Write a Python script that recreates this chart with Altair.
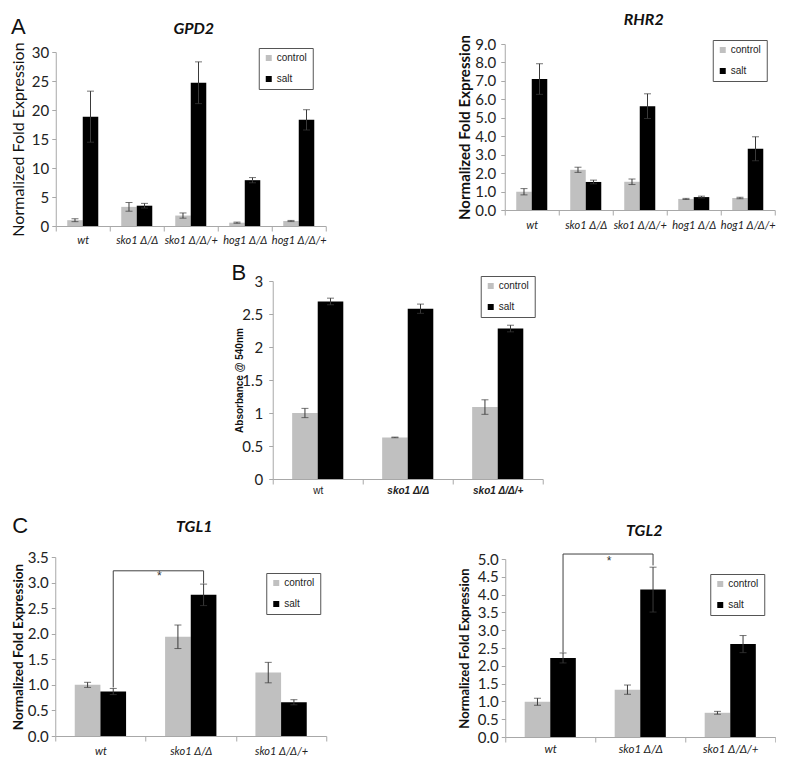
import altair as alt
import pandas as pd

# ---------------- data ----------------
conditions = ["control", "salt"]
strains5 = ["wt", "sko1 Δ/Δ", "sko1 Δ/Δ/+", "hog1 Δ/Δ", "hog1 Δ/Δ/+"]
strains3 = ["wt", "sko1 Δ/Δ", "sko1 Δ/Δ/+"]

gpd2_control = [1.0, 3.3, 1.8, 0.57, 0.86]
gpd2_control_err = [0.25, 0.75, 0.45, 0.1, 0.1]
gpd2_salt = [18.85, 3.5, 24.7, 7.9, 18.3]
gpd2_salt_err = [4.4, 0.4, 3.6, 0.45, 1.75]

rhr2_control = [0.99, 2.18, 1.53, 0.6, 0.65]
rhr2_control_err = [0.17, 0.14, 0.15, 0.03, 0.04]
rhr2_salt = [7.1, 1.52, 5.63, 0.7, 3.32]
rhr2_salt_err = [0.83, 0.1, 0.67, 0.05, 0.65]

abs_control = [1.0, 0.63, 1.09]
abs_control_err = [0.07, 0.005, 0.11]
abs_salt = [2.69, 2.58, 2.28]
abs_salt_err = [0.05, 0.07, 0.05]

tgl1_control = [1.0, 1.94, 1.24]
tgl1_control_err = [0.05, 0.23, 0.2]
tgl1_salt = [0.87, 2.76, 0.66]
tgl1_salt_err = [0.06, 0.21, 0.05]

tgl2_control = [0.99, 1.33, 0.68]
tgl2_control_err = [0.1, 0.13, 0.04]
tgl2_salt = [2.22, 4.14, 2.61]
tgl2_salt_err = [0.14, 0.63, 0.24]

# significance brackets: (strain, value) path points on the salt bars
tgl1_bracket_strain = ["wt", "wt", "sko1 Δ/Δ", "sko1 Δ/Δ"]
tgl1_bracket_value = [0.95, 3.23, 3.23, 2.98]
tgl1_star_value = 3.12
tgl2_bracket_strain = ["wt", "wt", "sko1 Δ/Δ", "sko1 Δ/Δ"]
tgl2_bracket_value = [2.37, 5.14, 5.14, 4.82]
tgl2_star_value = 4.95

GREY = "#c0c0c0"
AXC = "#a8a8a8"
ERRC = "#3a3a3a"
NUMFONT = "Lato"


def make_df(strains, c, ce, s, se):
    rows = []
    for st, v, e in zip(strains, c, ce):
        rows.append({"strain": st, "cond": "control", "value": v, "lo": v - e, "hi": v + e})
    for st, v, e in zip(strains, s, se):
        rows.append({"strain": st, "cond": "salt", "value": v, "lo": v - e, "hi": v + e})
    return pd.DataFrame(rows)


def text_layer(txt, x, y, size, color="#111", font="Liberation Sans", style="normal", weight="normal"):
    return alt.Chart(pd.DataFrame({"t": [txt]})).mark_text(
        font=font, fontSize=size, align="center", baseline="middle", color=color,
        fontStyle=style, fontWeight=weight,
    ).encode(text="t:N", x=alt.value(x), y=alt.value(y))


def panel(df, strains, W, H, yrange, ydom, yvals, yfmt, ytitle, ytfont, ytsize, ytweight,
          ytx, yty, ylabpad, xlabfont, xlabsize, xlabstyle, xlabweight, xlabpad, po,
          title, legxy, letter=None, bracket=None, spacers=()):
    xaxis = alt.Axis(title=None, labelAngle=0, tickBand="extent", tickSize=5,
                     tickColor=AXC, domainColor=AXC, labelColor="#222",
                     labelFont=xlabfont, labelFontSize=xlabsize,
                     labelFontStyle=xlabstyle, labelFontWeight=xlabweight,
                     labelPadding=xlabpad)
    x = alt.X("strain:N", sort=strains, scale=alt.Scale(domain=strains, paddingInner=0, paddingOuter=0),
              axis=xaxis)
    xo = alt.XOffset("cond:N", sort=conditions,
                     scale=alt.Scale(domain=conditions, paddingInner=0, paddingOuter=po))
    yaxis = alt.Axis(title=ytitle, values=yvals, format=yfmt, grid=False, tickSize=4,
                     tickColor=AXC, domainColor=AXC, labelColor="#222",
                     labelFont=NUMFONT, labelFontSize=15, labelPadding=ylabpad,
                     titleFont=ytfont, titleFontSize=ytsize, titleFontWeight=ytweight,
                     titleColor="#111", titleX=ytx, titleY=yty, titleBaseline="middle")
    yscale = alt.Scale(domain=ydom, nice=False, zero=True, range=yrange)

    base = alt.Chart(df)
    bars = base.mark_bar().encode(
        x=x, xOffset=xo,
        y=alt.Y("value:Q", scale=yscale, axis=yaxis),
        color=alt.Color("cond:N", sort=conditions,
                        scale=alt.Scale(domain=conditions, range=[GREY, "#000000"]),
                        legend=alt.Legend(title=None, orient="none", legendX=legxy[0], legendY=legxy[1],
                                          strokeColor="#555", fillColor="white", padding=5,
                                          symbolType="square", symbolSize=36, symbolStrokeWidth=0,
                                          labelFont="Liberation Sans", labelFontSize=10,
                                          labelColor="#222", rowPadding=11, labelOffset=3)),
    )
    rule = base.mark_rule(color=ERRC, strokeWidth=1).encode(
        x=x, xOffset=xo, y=alt.Y("lo:Q", scale=yscale, axis=yaxis), y2="hi:Q")
    cap_lo = base.mark_tick(color=ERRC, thickness=1, size=7, orient="horizontal").encode(
        x=x, xOffset=xo, y=alt.Y("lo:Q", scale=yscale, axis=yaxis))
    cap_hi = base.mark_tick(color=ERRC, thickness=1, size=7, orient="horizontal").encode(
        x=x, xOffset=xo, y=alt.Y("hi:Q", scale=yscale, axis=yaxis))
    layers = [bars, rule, cap_lo, cap_hi]
    if title:
        layers.append(text_layer(title[0], title[1], title[2], 16, font=NUMFONT, style="italic",
                                 weight="bold"))
    if letter is not None:
        layers.append(text_layer(letter[0], letter[1], letter[2], 22))
    for sx, sy, ss in spacers:
        layers.append(text_layer(".", sx, sy, ss, color="white"))
    if bracket is not None:
        bstr, bval, sval = bracket
        bdf = pd.DataFrame({"strain": bstr, "cond": ["salt"] * len(bstr), "value": bval,
                            "o": list(range(len(bstr)))})
        layers.append(alt.Chart(bdf).mark_line(color="#404040", strokeWidth=1).encode(
            x=x, xOffset=xo, y=alt.Y("value:Q", scale=yscale, axis=yaxis), order="o:Q"))
        sdf = pd.DataFrame({"strain": ["wt"], "cond": ["salt"], "value": [sval], "t": ["*"]})
        layers.append(alt.Chart(sdf).mark_text(fontSize=12, dx=46, color="#333",
                                               font="Liberation Sans").encode(
            x=x, xOffset=xo, y=alt.Y("value:Q", scale=yscale, axis=yaxis), text="t:N"))
    return alt.layer(*layers).properties(width=W, height=H)


# row 1 views share their top edge; GPD2's data area starts 8px lower
gpd2 = panel(make_df(strains5, gpd2_control, gpd2_control_err, gpd2_salt, gpd2_salt_err),
             strains5, 270, 182, [182, 8], [0, 30], list(range(0, 31, 5)), "d",
             "Normalized Fold Expression", NUMFONT, 16, "normal", -37.5, 95, 3,
             NUMFONT, 11, "italic", "normal", 3, 0.74,
             ("GPD2", 138, -15.5), (203, 4), letter=("A", -37.5, -17.5))

rhr2 = panel(make_df(strains5, rhr2_control, rhr2_control_err, rhr2_salt, rhr2_salt_err),
             strains5, 270, 166, [166, 0], [0, 9], [float(v) for v in range(0, 10)], ".1f",
             "Normalized Fold Expression", NUMFONT, 15, "bold", -40, 83, 5,
             NUMFONT, 11, "italic", "normal", 4, 0.74,
             ("RHR2", 139, -24.5), (208, -4))

absb = panel(make_df(strains3, abs_control, abs_control_err, abs_salt, abs_salt_err),
             strains3, 270, 198, [198, 0], [0, 3], [0, 0.5, 1, 1.5, 2, 2.5, 3], ".2~f",
             "Absorbance @ 540nm", "Liberation Sans", 10, "bold", -33, 99, 6,
             "Liberation Sans", 10,
             {"condition": {"test": "datum.value === 'wt'", "value": "normal"}, "value": "italic"},
             {"condition": {"test": "datum.value === 'wt'", "value": "normal"}, "value": "bold"},
             1, 0.76,
             None, (208, -5), letter=("B", -34, -8), spacers=[(280, 197, 40)])

tgl1 = panel(make_df(strains3, tgl1_control, tgl1_control_err, tgl1_salt, tgl1_salt_err),
             strains3, 271, 179, [179, 0], [0, 3.5], [0, 0.5, 1, 1.5, 2, 2.5, 3, 3.5], ".1f",
             "Normalized Fold Expression", NUMFONT, 13.5, "bold", -37, 89.5, 3,
             NUMFONT, 11, "italic", "normal", 4.5, 0.76,
             ("TGL1", 139, -30.5), (211, 16), letter=("C", -35, -31),
             bracket=(tgl1_bracket_strain, tgl1_bracket_value, tgl1_star_value))

tgl2 = panel(make_df(strains3, tgl2_control, tgl2_control_err, tgl2_salt, tgl2_salt_err),
             strains3, 270, 180, [180, 2], [0, 5], [i * 0.5 for i in range(11)], ".1f",
             "Normalized Fold Expression", NUMFONT, 13, "bold", -41, 91, 3,
             NUMFONT, 11.5, "italic", "normal", 1.5, 0.76,
             ("TGL2", 139, -26), (205, 17),
             bracket=(tgl2_bracket_strain, tgl2_bracket_value, tgl2_star_value))


def indep(c):
    return c.resolve_scale(color="independent", xOffset="independent").resolve_legend(color="independent")


row1 = indep(alt.hconcat(gpd2, rhr2, spacing=130))
row3 = indep(alt.hconcat(tgl1, tgl2, spacing=130))

chart = indep(alt.vconcat(row1, absb, row3, spacing=17, center=True)).properties(
    padding={"left": 2, "top": 3, "right": 0, "bottom": 0}, background="white"
).configure_view(stroke=None)

chart.save("out.html", embed_options={"renderer": "svg", "actions": False})
